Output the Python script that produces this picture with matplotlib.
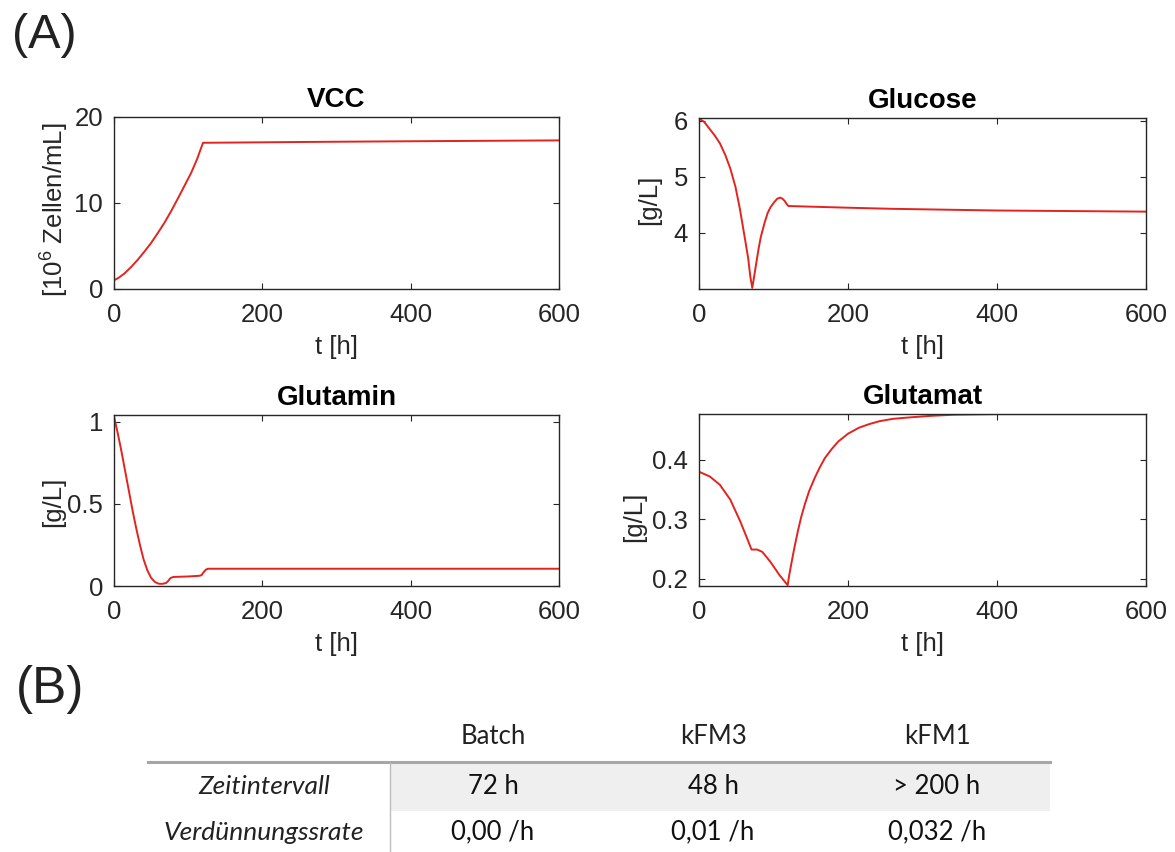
import numpy as np
import matplotlib
matplotlib.use("Agg")
import matplotlib.pyplot as plt
from matplotlib.patches import Rectangle
from matplotlib.lines import Line2D

# ---------------- data ----------------
vcc_t = [0, 7, 14, 23, 32, 41, 50, 59, 68, 77, 86, 95, 104, 112, 120, 260, 400, 600]
vcc_v = [1.0, 1.35, 1.8, 2.55, 3.4, 4.35, 5.35, 6.5, 7.7, 9.05, 10.5, 12.0, 13.5, 15.1, 17.0, 17.1, 17.18, 17.28]

glc_t = [0, 7, 14, 21, 28, 35, 42, 49, 55, 62, 66, 69, 71.5, 74, 76, 80, 83, 88, 92, 96, 101, 105, 109,
         112, 115, 118, 120, 200, 260, 400, 600]
glc_v = [6.04, 5.98, 5.86, 5.74, 5.60, 5.40, 5.15, 4.82, 4.42, 3.87, 3.55, 3.21, 3.02, 3.22, 3.39, 3.72,
         3.93, 4.18, 4.35, 4.46, 4.55, 4.61, 4.63, 4.61, 4.57, 4.51, 4.48, 4.45, 4.43, 4.40, 4.38]

gln_t = [0, 5, 10, 15, 20, 25, 30, 35, 40, 45, 50, 55, 60, 65, 70, 73, 76, 80, 100, 115, 118, 121, 124, 127, 600]
gln_v = [1.03, 0.93, 0.82, 0.70, 0.58, 0.46, 0.35, 0.25, 0.16, 0.095, 0.05, 0.025, 0.014, 0.013, 0.018, 0.03,
         0.048, 0.055, 0.058, 0.062, 0.066, 0.085, 0.10, 0.105, 0.105]

glu_t = [0, 14.5, 28, 42, 55.5, 64.5, 70.5, 74, 78, 85, 96, 108, 119, 121, 123.6, 128, 132.7, 137, 142,
         148, 155.5, 162, 169, 178, 187, 200, 214.5, 228, 242, 260, 278, 310, 342, 400, 600]
glu_v = [0.380, 0.372, 0.358, 0.333, 0.296, 0.268, 0.249, 0.249, 0.249, 0.245, 0.228, 0.206, 0.189, 0.205,
         0.223, 0.252, 0.280, 0.303, 0.325, 0.348, 0.370, 0.387, 0.403, 0.418, 0.431, 0.444, 0.454, 0.460,
         0.465, 0.469, 0.471, 0.474, 0.476, 0.477, 0.477]

titles = ["VCC", "Glucose", "Glutamin", "Glutamat"]
ylabels = ["[10$^6$ Zellen/mL]", "[g/L]", "[g/L]", "[g/L]"]
xlabel = "t [h]"

table_cols = ["Batch", "kFM3", "kFM1"]
table_rows = ["Zeitintervall", "Verdünnungssrate"]
table_vals = [["72 h", "48 h", "> 200 h"],
              ["0,00 /h", "0,01 /h", "0,032 /h"]]

# ---------------- figure ----------------
W, H = 1175, 852
fig = plt.figure(figsize=(W / 100, H / 100), dpi=100)
fig.patch.set_facecolor("white")

plt.rcParams["font.family"] = ["Liberation Sans", "DejaVu Sans"]
plt.rcParams["mathtext.fontset"] = "custom"
plt.rcParams["mathtext.rm"] = "Liberation Sans"


def rect(x0, y0, x1, y1):
    return [x0 / W, 1 - y1 / H, (x1 - x0) / W, (y1 - y0) / H]


axes_px = [(114, 117, 559, 289), (699, 118, 1146, 289),
           (114, 415, 559, 586), (699, 414, 1146, 586)]
series = [(vcc_t, vcc_v), (glc_t, glc_v), (gln_t, gln_v), (glu_t, glu_v)]
ylims = [(0, 20), (3.0, 6.05), (0, 1.04), (0.1876, 0.4772)]
yticks = [[0, 10, 20], [4, 5, 6], [0, 0.5, 1], [0.2, 0.3, 0.4]]
yticklabels = [["0", "10", "20"], ["4", "5", "6"], ["0", "0.5", "1"], ["0.2", "0.3", "0.4"]]
ylab_x = [-0.136, -0.112, -0.136, -0.146]
ylab_y = [0.46, 0.52, 0.49, 0.40]

dark = "#262626"
for i in range(4):
    ax = fig.add_axes(rect(*axes_px[i]))
    t, v = series[i]
    ax.plot(t, v, color="#e3231f", lw=1.4)
    ax.set_xlim(0, 600)
    ax.set_ylim(*ylims[i])
    ax.set_xticks([0, 200, 400, 600])
    ax.set_yticks(yticks[i])
    ax.set_yticklabels(yticklabels[i])
    ax.tick_params(direction="in", top=True, right=True, length=4, width=0.8,
                   labelsize=18.5, colors=dark, pad=8)
    ax.tick_params(axis="x", pad=10)
    for s in ax.spines.values():
        s.set_color(dark)
        s.set_linewidth(1.0)
    ax.set_title(titles[i], fontsize=20, fontweight="bold", color="black", pad=7)
    ax.set_xlabel(xlabel, fontsize=18.5, color=dark, va="center")
    ax.xaxis.set_label_coords(0.5, -58 / (axes_px[i][3] - axes_px[i][1]))
    ax.set_ylabel(ylabels[i], fontsize=18.5, color=dark, va="center")
    ax.yaxis.set_label_coords(ylab_x[i], ylab_y[i])

# panel letters
fig.text(12 / W, 1 - 36 / H, "(A)", fontsize=35, ha="left", va="center", color="#222222")
fig.text(16 / W, 1 - 689 / H, "(B)", fontsize=37, ha="left", va="center", color="#222222")

# ---------------- table ----------------
tax = fig.add_axes([0, 0, 1, 1])
tax.set_xlim(0, W)
tax.set_ylim(H, 0)
tax.axis("off")

tfont = ["Lato", "DejaVu Sans"]
col_x = [493, 713, 937]
label_x = 264
header_y = 737
row_y = [787, 832]

tax.add_patch(Rectangle((390, 763), 660, 48, facecolor="#efefef", edgecolor="none"))
tax.add_line(Line2D([148, 1050], [762, 762], color="#a6a6a6", lw=2.2))
tax.add_line(Line2D([390, 390], [763, 852], color="#bdbdbd", lw=1.0))

for c, name in enumerate(table_cols):
    tax.text(col_x[c], header_y, name, fontsize=18.5, family=tfont, ha="center", va="center", color="#222222")
for r, name in enumerate(table_rows):
    tax.text(label_x, row_y[r], name, fontsize=19, family=tfont, style="italic",
             ha="center", va="center", color="#222222")
    for c in range(3):
        tax.text(col_x[c], row_y[r], table_vals[r][c], fontsize=18.5, family=tfont,
                 ha="center", va="center", color="#111111")

fig.savefig("out.png", dpi=100, facecolor="white")
